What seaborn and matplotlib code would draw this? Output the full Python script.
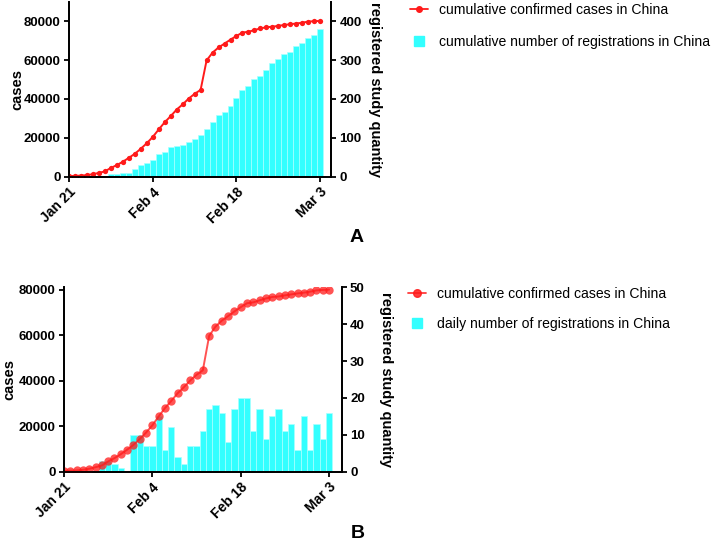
"""Cumulative confirmed COVID-19 cases vs. registered studies in China (panels A and B)."""
import numpy as np
import pandas as pd
import matplotlib
matplotlib.use("Agg")
import matplotlib.pyplot as plt
from matplotlib.lines import Line2D
import seaborn as sns

# ---- data ----
dates = pd.date_range("2020-01-21", "2020-03-03", freq="D")
tick_dates = ["2020-01-21", "2020-02-04", "2020-02-18", "2020-03-03"]
tick_labels = ["Jan 21", "Feb 4", "Feb 18", "Mar 3"]

confirmed = [291, 440, 571, 830, 1287, 1975, 2744, 4515, 5974, 7711, 9692,
             11791, 14380, 17205, 20438, 24324, 28018, 31161, 34546, 37198,
             40171, 42638, 44653, 59804, 63851, 66492, 68500, 70548, 72436,
             74185, 74576, 75465, 76288, 76936, 77150, 77658, 78064, 78497,
             78824, 79251, 79824, 80026, 80151]
reg_cumulative = [0, 0, 0, 0, 0, 0, 3, 6, 8, 9, 9, 19, 29, 36, 43, 58, 64, 76,
                  80, 82, 89, 96, 107, 124, 142, 158, 166, 183, 203, 223, 234,
                  251, 260, 275, 292, 303, 316, 322, 337, 343, 356, 365, 381]
reg_daily = [0, 0, 0, 0, 0, 0, 3, 3, 2, 1, 0, 10, 10, 7, 7, 15, 6, 12, 4, 2,
             7, 7, 11, 17, 18, 16, 8, 17, 20, 20, 11, 17, 9, 15, 17, 11, 13,
             6, 15, 6, 13, 9, 16]

label_cases = "cumulative confirmed cases in China"
label_cum = "cumulative number of registrations in China"
label_daily = "daily number of registrations in China"

RED = "#ff1a1a"
CYAN = "#33ffff"
W, H = 716, 543

sns.set_style("ticks")
plt.rcParams["font.family"] = ["Liberation Sans", "DejaVu Sans"]
plt.rcParams["axes.linewidth"] = 1.3
for key in ("text.color", "axes.labelcolor", "xtick.color", "ytick.color", "axes.edgecolor"):
    plt.rcParams[key] = "black"

fig = plt.figure(figsize=(W / 100, H / 100), dpi=100)


def px_axes(left, top, right, bottom):
    return fig.add_axes([left / W, 1 - bottom / H, (right - left) / W, (bottom - top) / H])


def panel(ax, bars, ylim_l, ylim_r, yticks_l, yticks_r, xmax, msize, alpha):
    day = np.arange(len(dates))
    ax2 = ax.twinx()
    sns.barplot(x=day, y=bars, ax=ax2, color=CYAN, saturation=1, width=1,
                edgecolor="#a8ffff", linewidth=0.5)
    sns.lineplot(x=day, y=confirmed, ax=ax, color=RED, marker="o",
                 markersize=msize, markeredgewidth=0, linewidth=1.4, alpha=alpha)
    ax.set_zorder(ax2.get_zorder() + 1)
    ax.patch.set_visible(False)

    pos = [dates.get_loc(pd.Timestamp(d)) for d in tick_dates]
    for a in (ax, ax2):
        a.set_xlim(0, xmax)
        a.spines["top"].set_visible(False)
        a.tick_params(width=1.3, length=3.5, pad=2.5, labelsize=9.5)
    ax.set_xticks(pos)
    ax.set_xticklabels(tick_labels, rotation=45, ha="right", va="top",
                       rotation_mode="anchor", fontweight="bold", fontsize=10)
    ax.set_ylim(*ylim_l)
    ax2.set_ylim(*ylim_r)
    ax.set_yticks(yticks_l)
    ax2.set_yticks(yticks_r)
    ax.set_yticklabels([str(v) for v in yticks_l], fontweight="bold")
    ax2.set_yticklabels([str(v) for v in yticks_r], fontweight="bold")
    ax2.set_xlabel("")
    ax.set_xlabel("")
    ax.set_ylabel("cases", fontsize=10.5, fontweight="bold")
    ax2.set_ylabel("registered study quantity", fontsize=10.5, fontweight="bold",
                   rotation=270, va="bottom")
    return ax2


# ---- panel A ----
axA = px_axes(69, 1.8, 331, 176.7)
axA2 = panel(axA, reg_cumulative, (0, 90000), (0, 450),
             [0, 20000, 40000, 60000, 80000], [0, 100, 200, 300, 400],
             43.8, 3.8, 1.0)
axA.yaxis.set_label_coords(-0.172, 0.5)
axA2.yaxis.set_label_coords(1.14, 0.5)

# ---- panel B ----
axB = px_axes(64, 287, 341.7, 471.7)
axB2 = panel(axB, reg_daily, (0, 81320), (0, 50.1),
             [0, 20000, 40000, 60000, 80000], [0, 10, 20, 30, 40, 50],
             44.0, 6, 0.75)
axB.yaxis.set_label_coords(-0.17, 0.5)
axB2.yaxis.set_label_coords(1.135, 0.5)

# ---- legends ----
leg_kw = dict(loc="upper left", bbox_transform=fig.transFigure, frameon=False,
              borderpad=0, borderaxespad=0, handlelength=1.25, handletextpad=0.8,
              fontsize=10.1)
hA = [Line2D([], [], color=RED, marker="o", markersize=4, lw=1.3),
      Line2D([], [], color=CYAN, marker="s", markersize=7, ls="none")]
fig.legend(hA, [label_cases, label_cum], bbox_to_anchor=(410 / W, 1 - 3 / H),
           labelspacing=1.3, **leg_kw)
hB = [Line2D([], [], color=RED, marker="o", markersize=5.5, lw=1.3, alpha=0.85),
      Line2D([], [], color=CYAN, marker="s", markersize=7, ls="none")]
fig.legend(hB, [label_cases, label_daily], bbox_to_anchor=(408 / W, 1 - 287 / H),
           labelspacing=1.15, **leg_kw)

fig.text(357 / W, 1 - 237 / H, "A", ha="center", va="center", fontsize=14, fontweight="bold")
fig.text(358 / W, 1 - 534 / H, "B", ha="center", va="center", fontsize=14, fontweight="bold")

fig.savefig("out.png", dpi=100)
print("Saved: out.png")
